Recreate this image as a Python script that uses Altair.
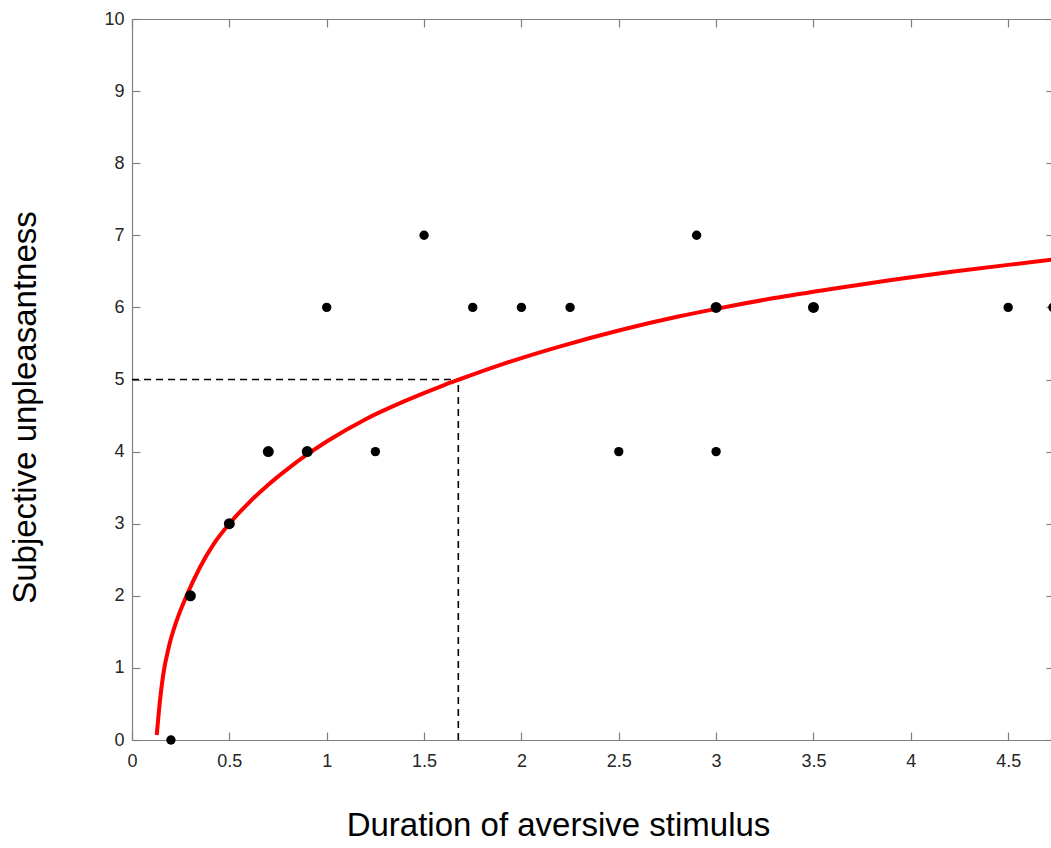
import altair as alt
import pandas as pd

# Observed ratings: stimulus duration, rating, number of overlapping responses
durations = [0.2, 0.3, 0.5, 0.7, 0.9, 1.0, 1.25, 1.5, 1.75, 2.0, 2.25, 2.5, 2.9, 3.0, 3.0, 3.5, 4.5, 4.73]
ratings = [0, 2, 3, 4, 4, 6, 4, 7, 6, 6, 6, 4, 7, 6, 4, 6, 6, 6]
counts = [1, 2, 2, 2, 2, 1, 1, 1, 1, 1, 1, 1, 1, 2, 1, 2, 1, 1]

# Fitted (log-shaped) curve, sampled along its length
fit_x = [0.127, 0.14, 0.16, 0.19, 0.23, 0.28, 0.35, 0.42, 0.5, 0.6, 0.7, 0.8, 0.9,
         1.0, 1.2, 1.4, 1.6, 1.68, 1.9, 2.2, 2.5, 2.8, 3.0, 3.3, 3.6, 3.9, 4.2,
         4.5, 4.8]
fit_y = [0.07, 0.45, 0.9, 1.3, 1.66, 2.0, 2.4, 2.72, 3.0, 3.29, 3.54, 3.76, 3.96,
         4.14, 4.45, 4.70, 4.92, 5.0, 5.21, 5.46, 5.68, 5.87, 5.98, 6.13, 6.26, 6.38, 6.49,
         6.59, 6.685]

# Guide lines marking the duration that gives a rating of 5
guide_x = [0.0, 1.676]
guide_x2 = [1.676, 1.676]
guide_y = [5.0, 0.0]
guide_y2 = [5.0, 5.0]

x_ticks = [0, 0.5, 1, 1.5, 2, 2.5, 3, 3.5, 4, 4.5]
y_ticks = list(range(0, 11))

W, H = 919, 721
FONT = "Liberation Sans"
AXIS_GREY = "#808080"

points_df = pd.DataFrame({"duration": durations, "rating": ratings, "n": counts})
fit_df = pd.DataFrame({"duration": fit_x, "rating": fit_y})
guide_df = pd.DataFrame({"x": guide_x, "x2": guide_x2, "y": guide_y, "y2": guide_y2})

xs = alt.Scale(domain=[0, 4.72], nice=False, zero=False)
ys = alt.Scale(domain=[0, 10], nice=False)


def tick_axis(orient, offset, values):
    """Axis that draws only its line and inward-pointing ticks."""
    return alt.Axis(orient=orient, offset=offset, values=values, labels=False, title=None,
                    grid=False, domain=True, domainColor=AXIS_GREY, domainWidth=1.2,
                    ticks=True, tickColor=AXIS_GREY, tickWidth=1.2, tickSize=8)


points = alt.Chart(points_df).mark_circle(color="black", opacity=1).encode(
    x=alt.X("duration:Q", scale=xs,
            axis=alt.Axis(orient="bottom", values=x_ticks, format="~g", grid=False,
                          domain=False, ticks=False, tickSize=0, labelPadding=12,
                          labelFlush=False,
                          labelFont=FONT, labelFontSize=18, labelColor="#262626",
                          title="Duration of aversive stimulus", titleFont=FONT,
                          titleFontSize=33, titleFontWeight="normal", titleColor="black",
                          titleBaseline="alphabetic", titleAlign="center",
                          titleX=426, titleY=95)),
    y=alt.Y("rating:Q", scale=ys,
            axis=alt.Axis(orient="left", values=y_ticks, grid=False,
                          domain=False, ticks=False, tickSize=0, labelPadding=8,
                          labelFlush=False,
                          labelFont=FONT, labelFontSize=18, labelColor="#262626",
                          title="Subjective unpleasantness", titleFont=FONT,
                          titleFontSize=33, titleFontWeight="normal", titleColor="black",
                          titleAngle=270, titleBaseline="alphabetic", titleAlign="center",
                          titleX=-97, titleY=388)),
    size=alt.Size("n:Q", scale=alt.Scale(domain=[1, 2], range=[88, 120]), legend=None),
)

fit = alt.Chart(fit_df).mark_line(color="#ff0000", strokeWidth=4, interpolate="monotone").encode(
    x=alt.X("duration:Q", scale=xs, axis=tick_axis("top", -H, x_ticks)),
    y=alt.Y("rating:Q", scale=ys, axis=tick_axis("right", -W, y_ticks)),
)

guides = alt.Chart(guide_df).mark_rule(color="black", strokeWidth=1.6, strokeDash=[7, 5]).encode(
    x=alt.X("x:Q", scale=xs, axis=tick_axis("bottom", -H, x_ticks)),
    x2="x2:Q",
    y=alt.Y("y:Q", scale=ys, axis=tick_axis("left", -(W + 3), y_ticks)),
    y2="y2:Q",
)

chart = (
    alt.layer(guides, fit, points)
    .resolve_axis(x="independent", y="independent")
    .properties(
        width=W,
        height=H,
        autosize=alt.AutoSizeParams(type="none"),
        padding={"left": 132, "top": 19, "right": 0, "bottom": 108},
        background="white",
    )
    .configure_view(strokeWidth=0)
)

chart.save("out.html", embed_options={"renderer": "svg", "actions": False})
